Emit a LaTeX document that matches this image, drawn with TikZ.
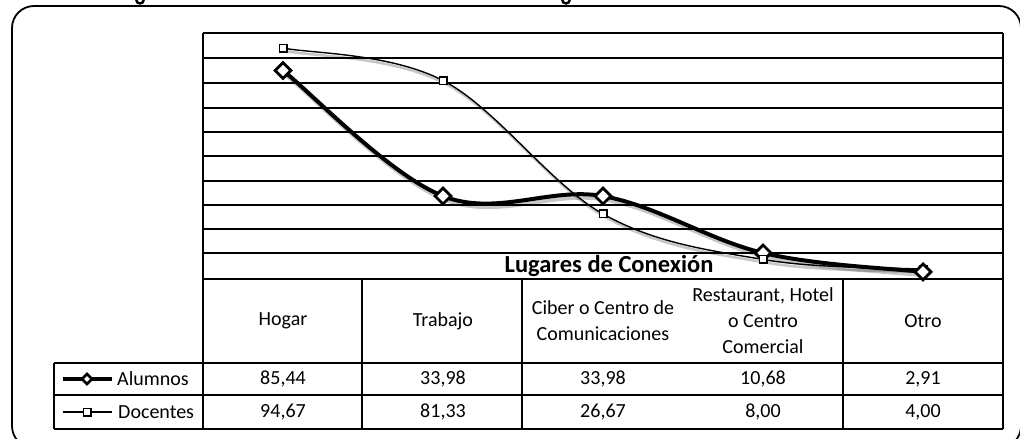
\documentclass[tikz,border=0pt]{standalone}
\usepackage{fontspec}
\setmainfont{Carlito}
\usetikzlibrary{shapes.geometric}
\begin{document}
\begin{tikzpicture}[x=1pt,y=-1pt,
  grid/.style={line width=1.2pt},
  tline/.style={line width=1.7pt},
  amark/.style={diamond,draw=black,fill=white,line width=2.8pt,inner sep=0pt,minimum width=17pt,minimum height=17pt},
  amarksm/.style={diamond,draw=black,fill=white,line width=2.6pt,inner sep=0pt,minimum width=11pt,minimum height=11pt},
  dmark/.style={rectangle,draw=black,fill=white,line width=1.5pt,inner sep=0pt,minimum size=7.5pt},
  aline/.style={line width=4pt},
  dline/.style={line width=1.4pt},
  softshade/.style={draw=black,opacity=0.22,line width=#1,transform canvas={xshift=2pt,yshift=-3pt}},
  hdr/.style={font=\fontsize{20}{26}\selectfont,align=center,inner sep=0pt},
  val/.style={font=\fontsize{20}{24}\selectfont,inner sep=0pt},
  ttl/.style={font=\fontsize{24.5}{28}\selectfont\bfseries,inner sep=0pt},
]
\useasboundingbox (0,0) rectangle (1020,439);
\clip (0,0) rectangle (1020,439);

% outer frame and cut title descenders
\draw[line width=1.8pt, rounded corners=22pt] (12,6) rectangle (1021,448);
\draw[line width=2.4pt] (136,-1) .. controls (136,5) and (144,5) .. (144,-1);
\draw[line width=2.4pt] (562,-1) .. controls (562,5) and (570,5) .. (570,-1);

% plot grid
\foreach \yy in {33,58,83,108,132,156,181,205,229,253}
  \draw[grid] (203,\yy) -- (1003,\yy);

% table lines
\draw[tline] (203,33) -- (203,429);
\draw[tline] (1003,33) -- (1003,429);
\draw[tline] (203,279) -- (1003,279);
\draw[tline] (54,363) -- (1003,363);
\draw[tline] (54,395) -- (1003,395);
\draw[tline] (54,429) -- (1003,429);
\draw[tline] (54,363) -- (54,429);
\foreach \xx in {362,522,843}
  \draw[tline] (\xx,279) -- (\xx,429);

% axis title
\node[ttl] (xtitle) at (609,266) {Lugares de Conexión};

% data points
\coordinate (a1) at (283,70.53);
\coordinate (a2) at (443,196.09);
\coordinate (a3) at (603,196.09);
\coordinate (a4) at (763,252.94);
\coordinate (a5) at (923,271.90);
\coordinate (d1) at (283,48.01);
\coordinate (d2) at (443,80.55);
\coordinate (d3) at (603,213.93);
\coordinate (d4) at (763,259.48);
\coordinate (d5) at (923,269.24);

% shadows
\path[softshade=5pt] (a1) .. controls +(26.67,20.93) and +(-53.33,-20.93) .. (a2)
  .. controls +(53.33,20.93) and +(-53.33,-9.475) .. (a3)
  .. controls +(53.33,9.475) and +(-53.33,-12.635) .. (a4)
  .. controls +(53.33,12.635) and +(-26.67,-3.16) .. (a5);
\path[softshade=2.5pt] (d1) .. controls +(26.67,5.42) and +(-53.33,-27.65) .. (d2)
  .. controls +(53.33,27.65) and +(-53.33,-29.82) .. (d3)
  .. controls +(53.33,29.82) and +(-53.33,-9.22) .. (d4)
  .. controls +(53.33,9.22) and +(-26.67,-1.63) .. (d5);

% series curves
\draw[aline] (a1) .. controls +(26.67,20.93) and +(-53.33,-20.93) .. (a2)
  .. controls +(53.33,20.93) and +(-53.33,-9.475) .. (a3)
  .. controls +(53.33,9.475) and +(-53.33,-12.635) .. (a4)
  .. controls +(53.33,12.635) and +(-26.67,-3.16) .. (a5);
\draw[dline] (d1) .. controls +(26.67,5.42) and +(-53.33,-27.65) .. (d2)
  .. controls +(53.33,27.65) and +(-53.33,-29.82) .. (d3)
  .. controls +(53.33,29.82) and +(-53.33,-9.22) .. (d4)
  .. controls +(53.33,9.22) and +(-26.67,-1.63) .. (d5);

% markers
\foreach \i in {1,2,3,5} \node[dmark] (D\i) at (d\i) {};
\foreach \i in {1,...,5} \node[amark] (A\i) at (a\i) {};
\node[dmark] (D4) at (d4) {};

% header texts
\node[hdr] (h1) at (283,321) {Hogar};
\node[hdr] (h2) at (443,321) {Trabajo};
\node[hdr] (h3) at (603,321) {Ciber o Centro de\\Comunicaciones};
\node[hdr] (h4) at (763,321) {Restaurant, Hotel\\o Centro\\Comercial};
\node[hdr] (h5) at (923,321) {Otro};

% legend
\coordinate (la0) at (63,379);
\coordinate (la1) at (112,379);
\draw[line width=4pt] (la0) -- (la1);
\node[amarksm] (lam) at (87,379) {};
\node[val,anchor=west] (lat) at (117,379) {Alumnos};
\coordinate (ld0) at (63,412);
\coordinate (ld1) at (112,412);
\draw[line width=1.3pt] (ld0) -- (ld1);
\node[dmark] (ldm) at (87,412) {};
\node[val,anchor=west] (ldt) at (118,412) {Docentes};

% values
\node[val] (va1) at (283,379) {85,44};
\node[val] (va2) at (443,379) {33,98};
\node[val] (va3) at (603,379) {33,98};
\node[val] (va4) at (763,379) {10,68};
\node[val] (va5) at (923,379) {2,91};
\node[val] (vd1) at (283,412) {94,67};
\node[val] (vd2) at (443,412) {81,33};
\node[val] (vd3) at (603,412) {26,67};
\node[val] (vd4) at (763,412) {8,00};
\node[val] (vd5) at (923,412) {4,00};
\end{tikzpicture}
\end{document}
